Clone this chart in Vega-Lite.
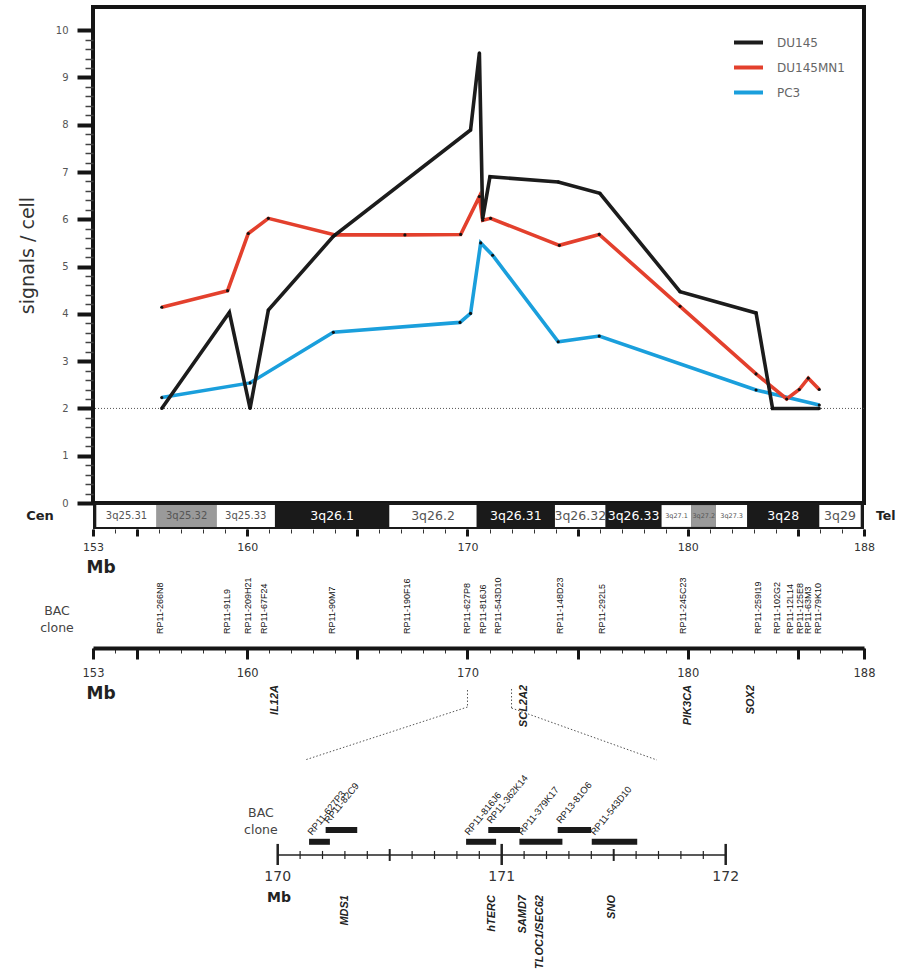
{
"$schema": "https://vega.github.io/schema/vega-lite/v6.json",
"background": "white",
"padding": {"left": 16, "top": 5, "right": 0, "bottom": 0},
"spacing": 0,
"bounds": "flush",
"resolve": {"scale": {"x": "independent", "y": "independent"}},
"config": {"view": {"stroke": null}, "font": "DejaVu Sans", "axis": {"grid": false}},
"vconcat": [
{
 "width": 771, "height": 496,
 "view": {"stroke": "#151515", "strokeWidth": 4},
 "data": {"values": [
  {"series":"PC3","mb":156.12,"signals":2.23},
  {"series":"PC3","mb":160.13,"signals":2.54},
  {"series":"PC3","mb":163.91,"signals":3.61},
  {"series":"PC3","mb":169.66,"signals":3.82},
  {"series":"PC3","mb":170.14,"signals":4.01},
  {"series":"PC3","mb":170.60,"signals":5.50},
  {"series":"PC3","mb":171.14,"signals":5.24},
  {"series":"PC3","mb":174.12,"signals":3.41},
  {"series":"PC3","mb":175.98,"signals":3.53},
  {"series":"PC3","mb":183.10,"signals":2.39},
  {"series":"PC3","mb":185.97,"signals":2.07},
  {"series":"DU145MN1","mb":156.12,"signals":4.14},
  {"series":"DU145MN1","mb":159.11,"signals":4.49},
  {"series":"DU145MN1","mb":160.05,"signals":5.70},
  {"series":"DU145MN1","mb":160.96,"signals":6.02},
  {"series":"DU145MN1","mb":163.99,"signals":5.67},
  {"series":"DU145MN1","mb":167.16,"signals":5.67},
  {"series":"DU145MN1","mb":169.69,"signals":5.68},
  {"series":"DU145MN1","mb":170.54,"signals":6.48},
  {"series":"DU145MN1","mb":170.69,"signals":5.98},
  {"series":"DU145MN1","mb":171.05,"signals":6.02},
  {"series":"DU145MN1","mb":174.17,"signals":5.45},
  {"series":"DU145MN1","mb":175.98,"signals":5.68},
  {"series":"DU145MN1","mb":179.65,"signals":4.16},
  {"series":"DU145MN1","mb":183.10,"signals":2.73},
  {"series":"DU145MN1","mb":184.49,"signals":2.20},
  {"series":"DU145MN1","mb":185.06,"signals":2.40},
  {"series":"DU145MN1","mb":185.47,"signals":2.64},
  {"series":"DU145MN1","mb":185.97,"signals":2.40},
  {"series":"DU145","mb":156.12,"signals":2.0},
  {"series":"DU145","mb":159.19,"signals":4.03},
  {"series":"DU145","mb":160.13,"signals":2.0},
  {"series":"DU145","mb":160.96,"signals":4.08},
  {"series":"DU145","mb":163.91,"signals":5.64},
  {"series":"DU145","mb":170.14,"signals":7.89},
  {"series":"DU145","mb":170.54,"signals":9.52},
  {"series":"DU145","mb":170.69,"signals":6.02},
  {"series":"DU145","mb":171.02,"signals":6.90},
  {"series":"DU145","mb":174.12,"signals":6.79},
  {"series":"DU145","mb":176.01,"signals":6.55},
  {"series":"DU145","mb":179.65,"signals":4.47},
  {"series":"DU145","mb":183.10,"signals":4.02},
  {"series":"DU145","mb":183.85,"signals":2.0},
  {"series":"DU145","mb":185.97,"signals":2.0}
 ]},
 "resolve": {"axis": {"y": "independent"}},
 "layer": [
  {"data": {"values": [{}]},
   "mark": {"type": "rule", "strokeDash": [1, 2], "color": "#555", "strokeWidth": 1},
   "encoding": {"y": {"datum": 2, "type": "quantitative",
     "scale": {"domain": [0, 10.49], "nice": false, "zero": false},
     "axis": {"orient": "left", "values": [0.2,0.4,0.6,0.8,1.2,1.4,1.6,1.8,2.2,2.4,2.6,2.8,3.2,3.4,3.6,3.8,4.2,4.4,4.6,4.8,5.2,5.4,5.6,5.8,6.2,6.4,6.6,6.8,7.2,7.4,7.6,7.8,8.2,8.4,8.6,8.8,9.2,9.4,9.6,9.8],
       "tickSize": 8, "tickWidth": 1.5, "tickColor": "#444", "labels": false, "domain": false, "title": null, "grid": false}}}},
  {"mark": {"type": "line", "strokeWidth": 3.6},
   "encoding": {
    "x": {"field": "mb", "type": "quantitative", "scale": {"domain": [153, 188], "nice": false, "zero": false}, "axis": null},
    "y": {"field": "signals", "type": "quantitative", "scale": {"domain": [0, 10.49], "nice": false, "zero": false},
      "axis": {"orient": "left", "values": [0,1,2,3,4,5,6,7,8,9,10], "tickSize": 16, "tickWidth": 4, "tickColor": "#151515",
        "domain": false, "labelFontSize": 10, "labelColor": "#555", "labelPadding": 9,
        "title": "signals / cell", "titleFontSize": 19, "titleFontWeight": "normal", "titleColor": "#333", "titlePadding": 18, "grid": false}},
    "color": {"field": "series", "type": "nominal",
      "scale": {"domain": ["DU145", "DU145MN1", "PC3"], "range": ["#1c1c1c", "#e3402d", "#1a9fdc"]},
      "legend": {"orient": "none", "legendX": 639, "legendY": 19, "title": null, "symbolType": "stroke", "symbolSize": 841,
        "symbolStrokeWidth": 4, "labelFontSize": 12, "labelColor": "#666", "labelOffset": 12, "rowPadding": -5, "padding": 0}}
   }},
  {"mark": {"type": "circle", "color": "#111", "size": 10, "opacity": 1},
   "encoding": {
    "x": {"field": "mb", "type": "quantitative", "scale": {"domain": [153, 188], "nice": false, "zero": false}, "axis": null},
    "y": {"field": "signals", "type": "quantitative", "scale": {"domain": [0, 10.49], "nice": false, "zero": false}, "axis": null}
   }}
 ]
},
{
 "width": 771, "height": 26,
 "data": {"values": [
  {"band":"3q25.31","start":153.15,"end":155.89,"mid":154.52,"stain":"gneg"},
  {"band":"3q25.32","start":155.89,"end":158.61,"mid":157.25,"stain":"gpos50"},
  {"band":"3q25.33","start":158.61,"end":161.26,"mid":159.935,"stain":"gneg"},
  {"band":"3q26.1","start":161.26,"end":166.45,"mid":163.855,"stain":"gpos100"},
  {"band":"3q26.2","start":166.45,"end":170.42,"mid":168.435,"stain":"gneg"},
  {"band":"3q26.31","start":170.42,"end":173.97,"mid":172.195,"stain":"gpos100"},
  {"band":"3q26.32","start":173.97,"end":176.27,"mid":175.12,"stain":"gneg"},
  {"band":"3q26.33","start":176.27,"end":178.81,"mid":177.54,"stain":"gpos100"},
  {"band":"3q27.1","start":178.81,"end":180.17,"mid":179.49,"stain":"gneg"},
  {"band":"3q27.2","start":180.17,"end":181.28,"mid":180.725,"stain":"gpos50"},
  {"band":"3q27.3","start":181.28,"end":182.70,"mid":181.99,"stain":"gneg"},
  {"band":"3q28","start":182.70,"end":185.97,"mid":184.335,"stain":"gpos100"},
  {"band":"3q29","start":185.97,"end":187.85,"mid":186.91,"stain":"gneg"}
 ]},
 "resolve": {"axis": {"x": "independent"}},
 "layer": [
  {"data": {"values": [{}]},
   "mark": {"type": "rect", "fill": "#1a1a1a"},
   "encoding": {
    "x": {"datum": 153, "type": "quantitative", "scale": {"domain": [153, 188], "nice": false, "zero": false}, "axis": null},
    "x2": {"datum": 188},
    "y": {"datum": 0, "type": "quantitative", "scale": {"domain": [0, 1], "nice": false}, "axis": null},
    "y2": {"datum": 1}
   }},
  {"mark": {"type": "rect"},
   "encoding": {
    "x": {"field": "start", "type": "quantitative", "scale": {"domain": [153, 188], "nice": false, "zero": false},
      "axis": {"orient": "bottom", "values": [153,154,155,156,157,158,159,160,161,162,163,164,165,166,167,168,169,170,171,172,173,174,175,176,177,178,179,180,181,182,183,184,185,186,187,188],
        "tickSize": 4, "tickWidth": 1, "tickColor": "#333", "domain": false,
        "labelExpr": "indexof([153,160,170,180,188], datum.value) >= 0 ? datum.label : ''",
        "labelFontSize": 11, "labelColor": "#333", "labelPadding": 8, "labelOverlap": false, "labelFlush": false,
        "title": "Mb", "titleAnchor": "start", "titleAlign": "left", "titleBaseline": "middle", "titleX": -7, "titleY": 38,
        "titleFontSize": 17, "titleFontWeight": "bold", "titleColor": "#222"}},
    "x2": {"field": "end"},
    "y": {"datum": 0.08, "type": "quantitative", "scale": {"domain": [0, 1], "nice": false}, "axis": null},
    "y2": {"datum": 0.92},
    "fill": {"field": "stain", "type": "nominal", "scale": {"domain": ["gneg", "gpos50", "gpos100"], "range": ["#ffffff", "#9a9a9a", "#1a1a1a"]}, "legend": null}
   }},
  {"mark": {"type": "text", "baseline": "middle", "align": "center"},
   "encoding": {
    "x": {"field": "mid", "type": "quantitative", "scale": {"domain": [153, 188], "nice": false, "zero": false},
      "axis": {"orient": "bottom", "values": [153,155,160,165,170,175,180,185,188], "tickSize": 7, "tickWidth": 3, "tickColor": "#151515",
        "labels": false, "domain": false, "title": null}},
    "y": {"datum": 0.5, "type": "quantitative", "scale": {"domain": [0, 1], "nice": false}, "axis": null},
    "text": {"field": "band"},
    "fill": {"condition": {"test": "datum.stain === 'gpos100'", "value": "#ffffff"}, "value": "#555"},
    "size": {"condition": [
      {"test": "indexof(['3q27.1','3q27.2','3q27.3'], datum.band) >= 0", "value": 6.5},
      {"test": "indexof(['3q25.31','3q25.32','3q25.33'], datum.band) >= 0", "value": 10}], "value": 12.5}
   }},
  {"data": {"values": [{}]},
   "mark": {"type": "text", "text": "Cen", "align": "center", "baseline": "middle", "dx": -53, "fontSize": 13, "fontWeight": "bold", "color": "#222"},
   "encoding": {
    "x": {"datum": 153, "type": "quantitative", "scale": {"domain": [153, 188], "nice": false, "zero": false}, "axis": null},
    "y": {"datum": 0.5, "type": "quantitative", "scale": {"domain": [0, 1], "nice": false}, "axis": null}
   }},
  {"data": {"values": [{}]},
   "mark": {"type": "text", "text": "Tel", "align": "left", "baseline": "middle", "dx": 12, "fontSize": 12.5, "fontWeight": "bold", "color": "#222"},
   "encoding": {
    "x": {"datum": 188, "type": "quantitative", "scale": {"domain": [153, 188], "nice": false, "zero": false}, "axis": null},
    "y": {"datum": 0.5, "type": "quantitative", "scale": {"domain": [0, 1], "nice": false}, "axis": null}
   }}
 ]
},
{
 "width": 771, "height": 119,
 "data": {"values": [
  {"clone":"RP11-266N8","mb":156.04},
  {"clone":"RP11-91L9","mb":159.07},
  {"clone":"RP11-209H21","mb":160.05},
  {"clone":"RP11-67F24","mb":160.76},
  {"clone":"RP11-90M7","mb":163.83},
  {"clone":"RP11-190F16","mb":167.24},
  {"clone":"RP11-627P8","mb":169.99},
  {"clone":"RP11-816J6","mb":170.69},
  {"clone":"RP11-543D10","mb":171.40},
  {"clone":"RP11-148D23","mb":174.20},
  {"clone":"RP11-292L5","mb":176.09},
  {"clone":"RP11-245C23","mb":179.80},
  {"clone":"RP11-259I19","mb":183.20},
  {"clone":"RP11-102G2","mb":184.03},
  {"clone":"RP11-12L14","mb":184.64},
  {"clone":"RP11-125E8","mb":185.09},
  {"clone":"RP11-63M3","mb":185.47},
  {"clone":"RP11-79K10","mb":185.92}
 ]},
 "resolve": {"axis": {"x": "independent"}},
 "layer": [
  {"mark": {"type": "text", "angle": 270, "align": "left", "baseline": "middle", "font": "Liberation Sans", "fontSize": 9, "color": "#111"},
   "encoding": {
    "x": {"field": "mb", "type": "quantitative", "scale": {"domain": [153, 188], "nice": false, "zero": false},
      "axis": {"orient": "bottom", "values": [153,154,155,156,157,158,159,160,161,162,163,164,165,166,167,168,169,170,171,172,173,174,175,176,177,178,179,180,181,182,183,184,185,186,187,188],
        "tickSize": 5, "tickWidth": 1, "tickColor": "#333", "domain": true, "domainWidth": 4, "domainColor": "#151515",
        "labelExpr": "indexof([153,160,170,180,188], datum.value) >= 0 ? datum.label : ''",
        "labelFontSize": 11.5, "labelColor": "#333", "labelPadding": 14, "labelOverlap": false, "labelFlush": false,
        "title": "Mb", "titleAnchor": "start", "titleAlign": "left", "titleBaseline": "middle", "titleX": -7, "titleY": 45,
        "titleFontSize": 17, "titleFontWeight": "bold", "titleColor": "#222"}},
    "y": {"datum": 0.118, "type": "quantitative", "scale": {"domain": [0, 1], "nice": false}, "axis": null},
    "text": {"field": "clone"}
   }},
  {"data": {"values": [{}]},
   "mark": {"type": "text", "text": ["BAC", "clone"], "align": "center", "baseline": "middle", "lineHeight": 17, "dx": -36, "fontSize": 12.5, "color": "#444"},
   "encoding": {
    "x": {"datum": 153, "type": "quantitative", "scale": {"domain": [153, 188], "nice": false, "zero": false},
      "axis": {"orient": "bottom", "values": [153,155,160,165,170,175,180,185,188], "tickSize": 11, "tickWidth": 3, "tickColor": "#151515",
        "labels": false, "domain": false, "title": null}},
    "y": {"datum": 0.31, "type": "quantitative", "scale": {"domain": [0, 1], "nice": false}, "axis": null}
   }}
 ]
},
{
 "width": 771, "height": 112,
 "data": {"values": [
  {"gene":"IL12A","mb":161.26},
  {"gene":"SCL2A2","mb":172.56},
  {"gene":"PIK3CA","mb":179.99},
  {"gene":"SOX2","mb":182.87}
 ]},
 "layer": [
  {"mark": {"type": "text", "angle": 270, "align": "right", "baseline": "middle", "font": "Liberation Sans", "fontSize": 11, "fontStyle": "italic", "fontWeight": "bold", "color": "#222"},
   "encoding": {
    "x": {"field": "mb", "type": "quantitative", "scale": {"domain": [153, 188], "nice": false, "zero": false}, "axis": null},
    "y": {"datum": 0.67, "type": "quantitative", "scale": {"domain": [0, 1], "nice": false}, "axis": null},
    "text": {"field": "gene"}
   }},
  {"data": {"values": [{}]},
   "mark": {"type": "rule", "strokeDash": [1.5, 2], "color": "#555", "strokeWidth": 1},
   "encoding": {"x": {"datum": 170, "type": "quantitative"}, "y": {"datum": 0.625, "type": "quantitative"}, "y2": {"datum": 0.473}}},
  {"data": {"values": [{}]},
   "mark": {"type": "rule", "strokeDash": [1.5, 2], "color": "#555", "strokeWidth": 1},
   "encoding": {"x": {"datum": 170, "type": "quantitative"}, "y": {"datum": 0.473, "type": "quantitative"}, "x2": {"datum": 162.62}, "y2": {"datum": 0}}},
  {"data": {"values": [{}]},
   "mark": {"type": "rule", "strokeDash": [1.5, 2], "color": "#555", "strokeWidth": 1},
   "encoding": {"x": {"datum": 172, "type": "quantitative"}, "y": {"datum": 0.634, "type": "quantitative"}, "y2": {"datum": 0.464}}},
  {"data": {"values": [{}]},
   "mark": {"type": "rule", "strokeDash": [1.5, 2], "color": "#555", "strokeWidth": 1},
   "encoding": {"x": {"datum": 172, "type": "quantitative"}, "y": {"datum": 0.464, "type": "quantitative"}, "x2": {"datum": 178.6}, "y2": {"datum": 0}}}
 ]
},
{
 "width": 771, "height": 213,
 "data": {"values": [
  {"clone":"RP11-627P3","start":170.140,"end":170.233,"lane":"lower"},
  {"clone":"RP11-82C9","start":170.214,"end":170.355,"lane":"upper"},
  {"clone":"RP11-816J6","start":170.841,"end":170.975,"lane":"lower"},
  {"clone":"RP11-362K14","start":170.940,"end":171.082,"lane":"upper"},
  {"clone":"RP11-379K17","start":171.079,"end":171.271,"lane":"lower"},
  {"clone":"RP13-81O6","start":171.250,"end":171.399,"lane":"upper"},
  {"clone":"RP11-543D10","start":171.402,"end":171.605,"lane":"lower"}
 ]},
 "encoding": {
  "x": {"type": "quantitative", "scale": {"domain": [169.1754, 172.6174], "nice": false, "zero": false}, "axis": null},
  "y": {"type": "quantitative", "scale": {"domain": [0, 1], "nice": false}, "axis": null}
 },
 "layer": [
  {"data": {"values": [{}]},
   "mark": {"type": "rule", "color": "#222", "strokeWidth": 1.5},
   "encoding": {"x": {"datum": 170, "type": "quantitative"}, "x2": {"datum": 172}, "y": {"datum": 0.554, "type": "quantitative"}}},
  {"data": {"values": [
    {"mb":170.0,"kind":"whole"},{"mb":170.1,"kind":"minor"},{"mb":170.2,"kind":"minor"},{"mb":170.3,"kind":"minor"},{"mb":170.4,"kind":"minor"},
    {"mb":170.5,"kind":"half"},{"mb":170.6,"kind":"minor"},{"mb":170.7,"kind":"minor"},{"mb":170.8,"kind":"minor"},{"mb":170.9,"kind":"minor"},
    {"mb":171.0,"kind":"whole"},{"mb":171.1,"kind":"minor"},{"mb":171.2,"kind":"minor"},{"mb":171.3,"kind":"minor"},{"mb":171.4,"kind":"minor"},
    {"mb":171.5,"kind":"half"},{"mb":171.6,"kind":"minor"},{"mb":171.7,"kind":"minor"},{"mb":171.8,"kind":"minor"},{"mb":171.9,"kind":"minor"},
    {"mb":172.0,"kind":"whole"}]},
   "layer": [
    {"transform": [{"filter": "datum.kind === 'minor'"}],
     "mark": {"type": "rule", "color": "#222", "strokeWidth": 1.2},
     "encoding": {"x": {"field": "mb", "type": "quantitative"}, "y": {"datum": 0.573, "type": "quantitative"}, "y2": {"datum": 0.535}}},
    {"transform": [{"filter": "datum.kind === 'half'"}],
     "mark": {"type": "rule", "color": "#222", "strokeWidth": 2},
     "encoding": {"x": {"field": "mb", "type": "quantitative"}, "y": {"datum": 0.582, "type": "quantitative"}, "y2": {"datum": 0.526}}},
    {"transform": [{"filter": "datum.kind === 'whole'"}],
     "mark": {"type": "rule", "color": "#222", "strokeWidth": 2.5},
     "encoding": {"x": {"field": "mb", "type": "quantitative"}, "y": {"datum": 0.606, "type": "quantitative"}, "y2": {"datum": 0.507}}},
    {"transform": [{"filter": "datum.kind === 'whole'"}],
     "mark": {"type": "text", "align": "center", "baseline": "middle", "fontSize": 14, "color": "#333"},
     "encoding": {"x": {"field": "mb", "type": "quantitative"}, "y": {"datum": 0.451, "type": "quantitative"}, "text": {"field": "mb", "type": "quantitative", "format": "d"}}}
   ]},
  {"data": {"values": [{}]},
   "mark": {"type": "text", "text": "Mb", "align": "center", "baseline": "middle", "fontSize": 14, "fontWeight": "bold", "color": "#222"},
   "encoding": {"x": {"datum": 170.006, "type": "quantitative"}, "y": {"datum": 0.352, "type": "quantitative"}}},
  {"data": {"values": [{}]},
   "mark": {"type": "text", "text": ["BAC", "clone"], "align": "center", "baseline": "middle", "lineHeight": 17, "fontSize": 12.5, "color": "#444"},
   "encoding": {"x": {"datum": 169.925, "type": "quantitative"}, "y": {"datum": 0.751, "type": "quantitative"}}},
  {"transform": [{"filter": "datum.lane === 'lower'"}],
   "layer": [
    {"mark": {"type": "rule", "color": "#1a1a1a", "strokeWidth": 6, "strokeCap": "butt"},
     "encoding": {"x": {"field": "start", "type": "quantitative"}, "x2": {"field": "end"}, "y": {"datum": 0.616, "type": "quantitative"}}},
    {"mark": {"type": "text", "angle": 309, "align": "left", "baseline": "alphabetic", "dx": 6.5, "dy": -1.5, "font": "Liberation Sans", "fontSize": 9.5, "color": "#222"},
     "encoding": {"x": {"field": "start", "type": "quantitative"}, "y": {"datum": 0.616, "type": "quantitative"}, "text": {"field": "clone"}}}
   ]},
  {"transform": [{"filter": "datum.lane === 'upper'"}],
   "layer": [
    {"mark": {"type": "rule", "color": "#1a1a1a", "strokeWidth": 6, "strokeCap": "butt"},
     "encoding": {"x": {"field": "start", "type": "quantitative"}, "x2": {"field": "end"}, "y": {"datum": 0.671, "type": "quantitative"}}},
    {"mark": {"type": "text", "angle": 309, "align": "left", "baseline": "alphabetic", "dx": 6.5, "dy": -1.5, "font": "Liberation Sans", "fontSize": 9.5, "color": "#222"},
     "encoding": {"x": {"field": "start", "type": "quantitative"}, "y": {"datum": 0.671, "type": "quantitative"}, "text": {"field": "clone"}}}
   ]},
  {"data": {"values": [
    {"gene":"MDS1","mb":170.300},
    {"gene":"hTERC","mb":170.955},
    {"gene":"SAMD7","mb":171.096},
    {"gene":"TLOC1/SEC62","mb":171.171},
    {"gene":"SNO","mb":171.491}]},
   "mark": {"type": "text", "angle": 270, "align": "right", "baseline": "middle", "font": "Liberation Sans", "fontSize": 11, "fontStyle": "italic", "fontWeight": "bold", "color": "#222"},
   "encoding": {"x": {"field": "mb", "type": "quantitative"}, "y": {"datum": 0.366, "type": "quantitative"}, "text": {"field": "gene"}}}
 ]
}
]
}
